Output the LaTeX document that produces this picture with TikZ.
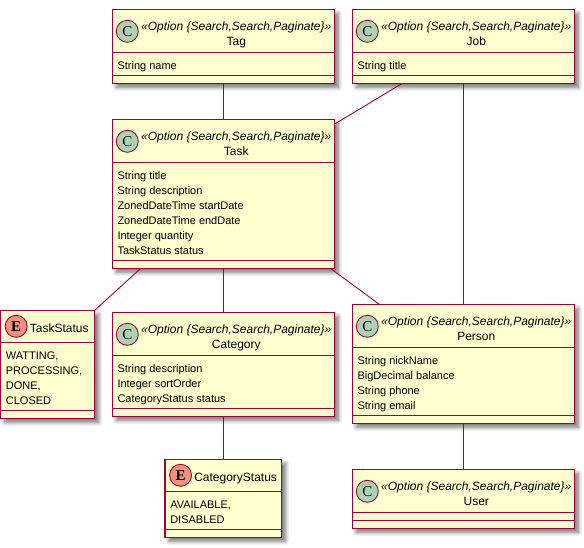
\documentclass[tikz,border=0pt]{standalone}
\usepackage{fontspec}
\usepackage{tikz}
\usepackage{xcolor}
\usetikzlibrary{shadows.blur}
\setmainfont{Liberation Sans}
\newfontfamily\glyphfont{Liberation Serif}
\definecolor{umlfill}{HTML}{FEFECE}
\definecolor{umlline}{HTML}{A80036}
\definecolor{classmark}{HTML}{ADD1B2}
\definecolor{enummark}{HTML}{EB937F}

\tikzset{
classbox/.style={draw=umlline, line width=1.3pt, fill=umlfill, outer sep=0pt, inner sep=0pt, anchor=north west,
  blur shadow={shadow xshift=4pt, shadow yshift=-4pt, shadow blur radius=4pt, shadow blur steps=8, shadow opacity=55}},
classline/.style={draw=umlline, line width=1.2pt},
headtext/.style={inner sep=0pt, anchor=north, align=center, font=\fontsize{12}{15}\selectfont},
enumtext/.style={inner sep=0pt, anchor=base west, font=\fontsize{12}{15}\selectfont},
fieldtext/.style={inner sep=0pt, anchor=north west, align=left, font=\fontsize{11}{15}\selectfont},
classmarker/.style={circle, draw=umlline, line width=0.9pt, minimum size=22pt, inner sep=0pt, font=\glyphfont\fontsize{15}{15}\selectfont},
assoc/.style={draw=umlline, line width=0.9pt}
}

% name, left, top, height, title, fields
\newcommand{\optionclass}[6]{
\node[classbox, minimum width=222pt, minimum height=#4pt] (#1) at (#2,#3) {};
\node[classmarker, fill=classmark] (#1-mark) at (#2+15,#3+22) {C};
\node[headtext] (#1-head) at (#2+124,#3+9.5) {\rule{0pt}{11pt}\textit{«Option \{Search,Search,Paginate\}»}\\#5};
\draw[classline] ([yshift=-43pt]#1.north west) -- ([yshift=-43pt]#1.north east);
\draw[classline] ([yshift=8pt]#1.south west) -- ([yshift=8pt]#1.south east);
\node[fieldtext] (#1-fields) at (#2+5,#3+49) {\rule{0pt}{11pt}#6};
}

% name, left, top, width, height, title, fields
\newcommand{\enumclass}[7]{
\node[classbox, minimum width=#4pt, minimum height=#5pt] (#1) at (#2,#3) {};
\node[classmarker, fill=enummark] (#1-mark) at (#2+15.5,#3+16) {\textbf{E}};
\node[enumtext] (#1-head) at (#2+29,#3+22) {#6};
\draw[classline] ([yshift=-32pt]#1.north west) -- ([yshift=-32pt]#1.north east);
\draw[classline] ([yshift=8pt]#1.south west) -- ([yshift=8pt]#1.south east);
\node[fieldtext] (#1-fields) at (#2+5,#3+38) {\rule{0pt}{11pt}#7};
}

\begin{document}
\begin{tikzpicture}[x=1pt, y=-1pt]
\useasboundingbox (0,0) rectangle (584,547);

\optionclass{tag}{112.3}{9.3}{74}{Tag}{String name}
\optionclass{job}{352.3}{9.3}{74}{Job}{String title}
\optionclass{task}{112.3}{119.3}{149}{Task}{String title\\String description\\ZonedDateTime startDate\\ZonedDateTime endDate\\Integer quantity\\TaskStatus status}
\optionclass{category}{112.3}{312.3}{104}{Category}{String description\\Integer sortOrder\\CategoryStatus status}
\optionclass{person}{352.3}{304.3}{119}{Person}{String nickName\\BigDecimal balance\\String phone\\String email}
\optionclass{user}{352.3}{469.3}{59}{User}{}
\enumclass{taskstatus}{0.7}{310.3}{94}{108}{TaskStatus}{WATTING,\\PROCESSING,\\DONE,\\CLOSED}
\enumclass{categorystatus}{165.05}{459.3}{116.5}{78}{CategoryStatus}{AVAILABLE,\\DISABLED}

\draw[assoc] (tag.south) -- (task.north);
\draw[assoc] ([xshift=50pt]job.south west) -- ([yshift=-5pt]task.north east);
\draw[assoc] (job.south) -- (person.north);
\draw[assoc] ([xshift=28.5pt]task.south west) -- (taskstatus.north east);
\draw[assoc] (task.south) -- (category.north);
\draw[assoc] ([xshift=-4pt]task.south east) -- ([xshift=27pt]person.north west);
\draw[assoc] (category.south) -- (categorystatus.north);
\draw[assoc] (person.south) -- (user.north);
\end{tikzpicture}
\end{document}
